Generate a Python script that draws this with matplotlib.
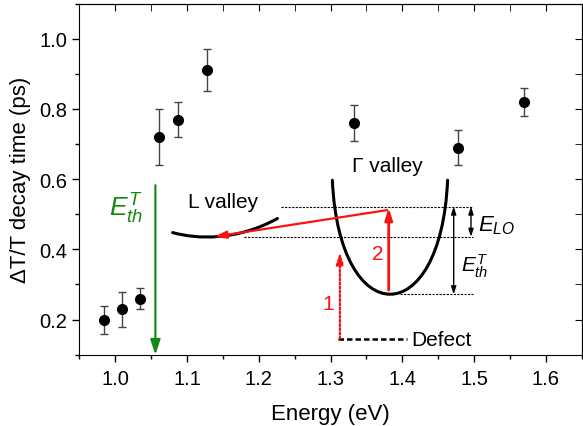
import numpy as np
import matplotlib
matplotlib.use('Agg')
import matplotlib.pyplot as plt
from matplotlib.ticker import MultipleLocator, FormatStrFormatter
from matplotlib.path import Path
from matplotlib.patches import PathPatch

plt.rcParams['font.family'] = ['Liberation Sans', 'DejaVu Sans']
plt.rcParams['mathtext.fontset'] = 'custom'
plt.rcParams['mathtext.rm'] = 'Liberation Sans'
plt.rcParams['mathtext.it'] = 'Liberation Sans:italic'

# measured decay times
energy = [0.985, 1.009, 1.034, 1.061, 1.088, 1.128, 1.333, 1.477, 1.570]
tau = [0.20, 0.23, 0.26, 0.72, 0.77, 0.91, 0.76, 0.69, 0.82]
tau_err = [0.04, 0.05, 0.03, 0.08, 0.05, 0.06, 0.05, 0.05, 0.04]

# schematic band curves: cubic bezier control points (start, c1, c2, end)
l_valley_ctrl = [(1.080, 0.448), (1.115, 0.428), (1.170, 0.425), (1.226, 0.488)]
g_valley_ctrl = [(1.3025, 0.597), (1.312, 0.164), (1.454, 0.164), (1.463, 0.597)]

# energy levels
level_top = 0.522
level_lo = 0.436
level_min = 0.272
level_defect = 0.144

fig = plt.figure(figsize=(5.83, 4.27), dpi=100)
ax = fig.add_axes([0.136, 0.167, 0.862, 0.822])

ax.errorbar(energy, tau, yerr=tau_err, fmt='o', color='black', ms=7,
            ecolor='#444444', elinewidth=1.0, capsize=3, capthick=1.0, zorder=5)

# valleys
for ctrl in (l_valley_ctrl, g_valley_ctrl):
    path = Path(ctrl, [Path.MOVETO, Path.CURVE4, Path.CURVE4, Path.CURVE4])
    ax.add_patch(PathPatch(path, facecolor='none', edgecolor='black', lw=2.2,
                           capstyle='round'))

# dashed level lines
ax.plot([1.231, 1.499], [level_top, level_top], 'k--', lw=0.8, dashes=(2, 1.2))
ax.plot([1.180, 1.499], [level_lo, level_lo], 'k--', lw=0.8, dashes=(2, 1.2))
ax.plot([1.397, 1.499], [level_min, level_min], 'k--', lw=0.8, dashes=(2, 1.2))
ax.plot([1.311, 1.407], [level_defect, level_defect], 'k--', lw=1.8, dashes=(2.2, 1.2))
ax.text(1.412, level_defect, 'Defect', fontsize=15, va='center', ha='left')

# green threshold arrow
ax.annotate('', xy=(1.056, 0.1), xytext=(1.056, 0.583),
            arrowprops=dict(arrowstyle='-|>,head_length=0.9,head_width=0.3',
                            color='#118811', lw=1.5, shrinkA=0, shrinkB=0))
ax.text(1.015, 0.517, r'$E_{th}^{T}$', color='#118811', fontsize=19,
        ha='center', va='center')

# red scattering arrows
red = '#ff1010'
ax.annotate('', xy=(1.138, 0.436), xytext=(1.379, 0.512),
            arrowprops=dict(arrowstyle='-|>,head_length=0.7,head_width=0.22',
                            color=red, lw=1.6, shrinkA=0, shrinkB=0))
ax.annotate('', xy=(1.381, 0.519), xytext=(1.381, 0.284),
            arrowprops=dict(arrowstyle='-|>,head_length=0.7,head_width=0.22',
                            color=red, lw=2.0, shrinkA=0, shrinkB=0))
ax.annotate('', xy=(1.313, 0.392), xytext=(1.313, 0.146),
            arrowprops=dict(arrowstyle='-|>,head_length=0.7,head_width=0.22',
                            color=red, lw=1.5, ls=(0, (1, 1)), shrinkA=0, shrinkB=0))
ax.plot([1.313, 1.313], [0.146, 0.385], color=red, lw=1.5, ls=(0, (1, 1)))
ax.text(1.297, 0.246, '1', color=red, fontsize=15, ha='center', va='center')
ax.text(1.366, 0.388, '2', color=red, fontsize=15, ha='center', va='center')

# black double arrows
ax.annotate('', xy=(1.4956, level_lo), xytext=(1.4956, level_top),
            arrowprops=dict(arrowstyle='<|-|>,head_length=0.45,head_width=0.15',
                            color='black', lw=1.0, shrinkA=0, shrinkB=0))
ax.annotate('', xy=(1.4715, level_min), xytext=(1.4715, level_top),
            arrowprops=dict(arrowstyle='<|-|>,head_length=0.45,head_width=0.15',
                            color='black', lw=1.0, shrinkA=0, shrinkB=0))
ax.text(1.506, 0.470, r'$E_{LO}$', fontsize=16, ha='left', va='center')
ax.text(1.482, 0.355, r'$E_{th}^{T}$', fontsize=15, ha='left', va='center')

ax.text(1.101, 0.536, 'L valley', fontsize=15, ha='left', va='center')
ax.text(1.330, 0.640, 'Γ valley', fontsize=15, ha='left', va='center')

ax.set_xlim(0.95, 1.65)
ax.set_ylim(0.1, 1.1)
ax.xaxis.set_major_locator(MultipleLocator(0.1))
ax.xaxis.set_minor_locator(MultipleLocator(0.05))
ax.yaxis.set_major_locator(MultipleLocator(0.2))
ax.yaxis.set_minor_locator(MultipleLocator(0.1))
ax.tick_params(which='major', direction='out', length=5, width=1, labelsize=14.5)
ax.tick_params(which='minor', direction='out', length=3, width=1)
ax.tick_params(axis='x', which='major', pad=5)
ax.xaxis.set_major_formatter(FormatStrFormatter('%.1f'))
ax.yaxis.set_major_formatter(FormatStrFormatter('%.1f'))

# inward ticks on top and right
top = ax.secondary_xaxis('top')
top.xaxis.set_major_locator(MultipleLocator(0.1))
top.xaxis.set_minor_locator(MultipleLocator(0.05))
top.tick_params(which='both', direction='in', length=5, labeltop=False)
right = ax.secondary_yaxis('right')
right.yaxis.set_major_locator(MultipleLocator(0.2))
right.yaxis.set_minor_locator(MultipleLocator(0.1))
right.tick_params(which='both', direction='in', length=5, labelright=False)

ax.set_xlabel('Energy (eV)', fontsize=16, labelpad=11)
ax.set_ylabel('ΔT/T decay time (ps)', fontsize=16, labelpad=6)

fig.savefig('out.png', dpi=100)
